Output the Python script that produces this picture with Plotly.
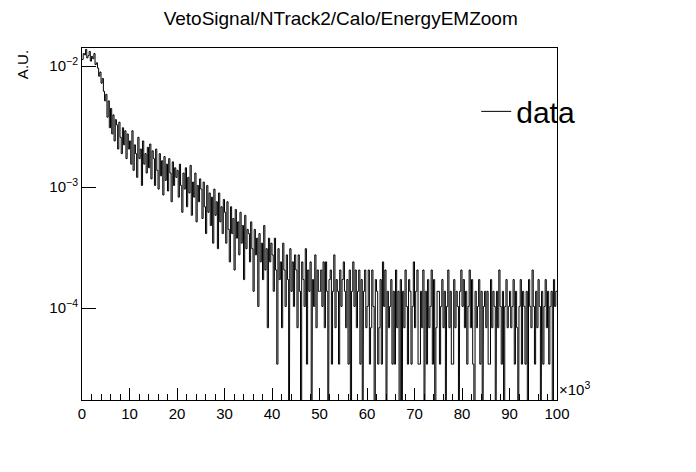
import math
import plotly.graph_objects as go

scale = 3.44e-5
bin_width = 250
counts = [
330,370,360,400,340,355,385,320,350,335,370,300,310,280,240,260,210,230,180,150,
170,110,150,90,130,80,115,70,105,95,60,100,75,55,90,65,85,50,80,60,
70,45,85,40,65,55,35,75,50,60,30,70,45,55,38,62,42,66,34,58,
50,30,60,40,28,55,36,48,25,52,33,45,27,50,38,22,47,30,42,35,
40,24,45,30,18,38,28,42,20,35,26,44,17,32,24,38,15,30,22,34,
28,16,32,20,12,30,18,26,14,24,10,28,17,22,9,26,15,20,12,23,
18,10,22,13,7,20,12,16,6,19,11,15,8,18,10,14,5,17,9,13,
12,7,15,9,4,13,8,11,3,12,7,10,5,14,6,9,2,11,7,10,
8,4,11,6,1,9,5,7,2,10,6,3,8,5,0,9,4,7,3,8,
6,2,8,4,0,7,5,3,9,1,6,4,7,0,5,3,8,2,6,4,
4,6,3,7,2,7,4,0,5,6,1,4,8,2,5,4,1,6,3,5,
7,4,2,5,1,6,0,4,7,3,6,2,4,6,1,5,0,4,6,2,
3,6,1,2,6,3,0,5,4,1,2,5,1,7,3,6,0,4,2,3,
5,1,4,1,6,2,4,0,5,0,4,2,6,3,1,5,4,1,3,7,
2,4,6,1,1,4,2,6,0,4,1,5,2,3,6,1,5,0,2,4,
4,1,3,5,2,4,0,3,6,2,4,1,1,5,2,4,3,0,4,6,
3,5,2,4,1,3,6,2,5,1,0,4,2,3,5,1,4,0,3,4,
2,4,1,1,5,2,4,3,0,4,2,6,3,1,4,0,3,5,2,3,
4,2,3,5,1,4,2,0,3,5,1,4,3,1,4,0,5,3,2,6,
3,1,4,2,5,3,0,4,1,3,5,2,4,1,3,4,0,5,3,4,
]
x_ticks = [0, 10, 20, 30, 40, 50, 60, 70, 80, 90, 100]
y_minor = [m * 10.0 ** e for e in (-5, -4, -3, -2) for m in range(2, 10)]
y_lo, y_hi = -4.76, -1.85

xs, ys = [], []
for i, c in enumerate(counts):
    v = c * scale if c > 0 else 1e-8
    xs += [i * bin_width, (i + 1) * bin_width]
    ys += [v, v]

fig = go.Figure()
fig.add_trace(go.Scatter(x=xs, y=ys, mode="lines", line=dict(color="black", width=1),
                         name="data", showlegend=False))
fig.add_trace(go.Scatter(x=[None], y=[None], mode="lines", line=dict(color="black", width=1),
                         name="data"))

shapes = []
for v in y_minor:
    lv = math.log10(v)
    if y_lo < lv < y_hi:
        shapes.append(dict(type="line", xref="paper", yref="y", x0=0, x1=0.016, y0=lv, y1=lv,
                           line=dict(color="black", width=1)))

fig.update_layout(
    width=696, height=472, paper_bgcolor="white", plot_bgcolor="white",
    margin=dict(l=74, r=147, t=40, b=80),
    font=dict(family="Liberation Sans", color="black", size=15),
    title=dict(text="VetoSignal/NTrack2/Calo/EnergyEMZoom", x=0.478, xanchor="center",
               y=0.978, yanchor="middle", font=dict(size=19)),
    legend=dict(x=0.83, y=0.82, xanchor="left", yanchor="middle", bgcolor="rgba(0,0,0,0)",
                font=dict(size=30), itemwidth=30),
    shapes=shapes,
    xaxis=dict(range=[0, 100000], tickvals=[t * 1000 for t in x_ticks], automargin=False,
               ticktext=[str(t) for t in x_ticks], ticks="inside", ticklen=12,
               showgrid=False, zeroline=False, showline=True, linecolor="black", mirror=True,
               minor=dict(dtick=2000, ticks="inside", ticklen=6, tickcolor="black"),
               tickcolor="black"),
    yaxis=dict(type="log", range=[y_lo, y_hi], tickvals=[1e-4, 1e-3, 1e-2], automargin=False,
               ticktext=["10<sup>−4</sup>", "10<sup>−3</sup>", "10<sup>−2</sup>"],
               ticks="inside", ticklen=14, tickcolor="black",
               showgrid=False, zeroline=False, showline=True, linecolor="black", mirror=True),
    annotations=[
        dict(text="A.U.", xref="paper", yref="paper", x=-0.125, y=1.0, xanchor="center",
             yanchor="top", textangle=-90, showarrow=False, font=dict(size=15)),
        dict(text="×10<sup>3</sup>", xref="paper", yref="paper", x=1.0, y=0.0,
             xanchor="left", yanchor="bottom", showarrow=False, font=dict(size=15)),
    ],
)
fig.write_html("out.html")
